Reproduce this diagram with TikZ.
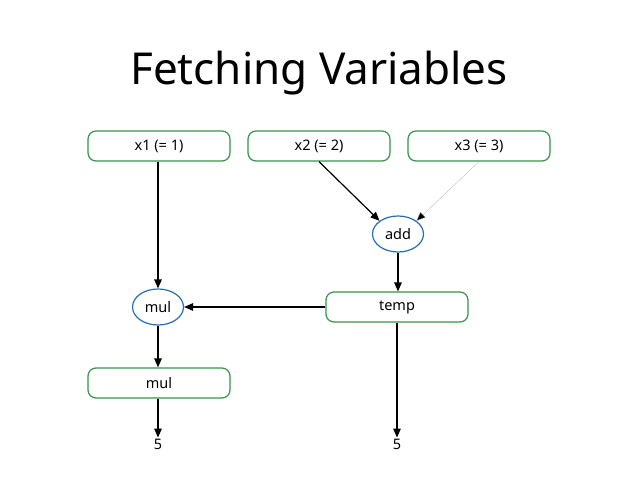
\documentclass[tikz,border=0pt]{standalone}
\usepackage{fontspec}
\setmainfont{Noto Sans}
\usetikzlibrary{arrows.meta,shapes.geometric}
\definecolor{boxgreen}{RGB}{56,146,72}
\definecolor{ellblue}{RGB}{38,110,180}
\begin{document}
\begin{tikzpicture}[x=1pt,y=-1pt,
  vbox/.style={draw=boxgreen,rounded corners=8pt,minimum width=142pt,minimum height=30pt,inner sep=0pt,font=\fontsize{14.5}{17}\selectfont,line width=1.2pt},
  vop/.style={draw=ellblue,ellipse,minimum width=51pt,minimum height=36pt,inner sep=0pt,font=\fontsize{14.5}{17}\selectfont,line width=1.2pt},
  outlbl/.style={inner sep=1pt,font=\fontsize{14.5}{17}\selectfont},
  conn/.style={-{Triangle[length=9pt,width=7.5pt]},line width=1.2pt},
  faint/.style={-{Triangle[length=9pt,width=7.5pt,fill=black]},line width=0.3pt,draw=gray!60}]
\useasboundingbox (0,0) rectangle (638,479);
\node[font=\fontsize{44}{52}\selectfont] (title) at (319,73) {Fetching Variables};
\node[vbox] (x1) at (159,146) {x1 (= 1)};
\node[vbox] (x2) at (319,146) {x2 (= 2)};
\node[vbox] (x3) at (479,146) {x3 (= 3)};
\node[vop] (add) at (398,234) {add};
\node[vbox] (temp) at (397,307) {temp};
\node[vop] (mulop) at (158,307) {mul};
\node[vbox] (mulv) at (159,383) {mul};
\node[outlbl] (o1) at (158,444) {5};
\node[outlbl] (o2) at (397,444) {5};
\draw[conn] (x1.south -| mulop) -- (mulop.north);
\draw[conn] (x2.south) -- (add.north west);
\draw[faint] (x3.south) -- (add.north east);
\draw[conn] (add.south) -- (temp.north -| add);
\draw[conn] (temp.west) -- (mulop.east);
\draw[conn] (mulop.south) -- (mulv.north -| mulop);
\draw[conn] (mulv.south -| o1) -- (o1.north);
\draw[conn] (temp.south) -- (o2.north);
\end{tikzpicture}
\end{document}
